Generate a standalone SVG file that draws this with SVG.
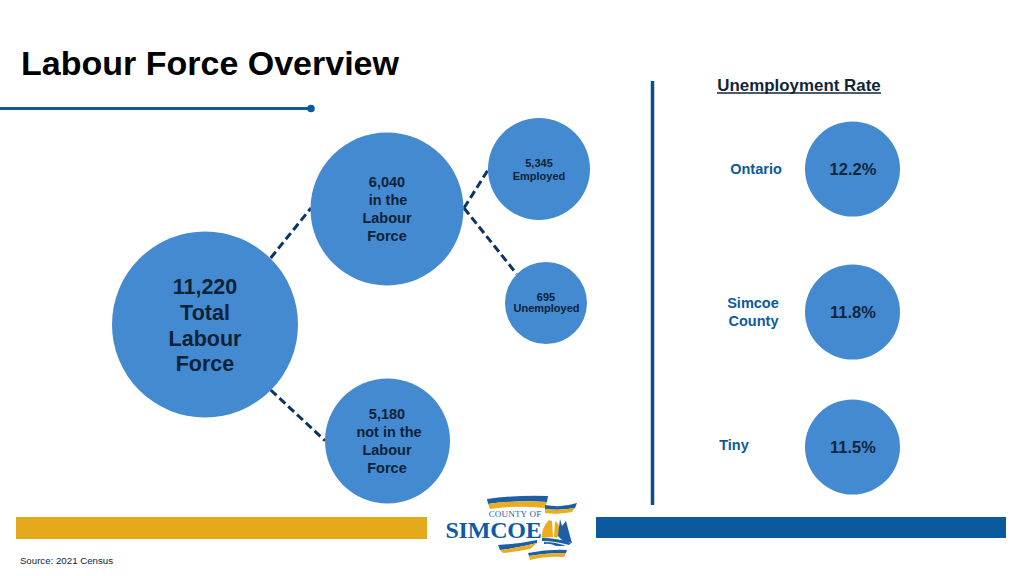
<svg xmlns="http://www.w3.org/2000/svg" width="1024" height="576" viewBox="0 0 1024 576">
<style>
text{font-family:"Liberation Sans",Arial,sans-serif;font-weight:bold;text-anchor:middle}
.c{fill:#448AD0}
.n{fill:#0E2238}
.r{fill:#0B5A9E;font-size:14.500px}
.rate{fill:#10263C;font-size:16.500px}
.d{stroke:#0B3560;stroke-width:3;stroke-dasharray:8 4;fill:none}
.b{fill:#1C5FA6}
.y{fill:#EBAD1E}
</style>
<rect width="1024" height="576" fill="#fff"/>
<g id="title">
<text x="210" y="75" font-size="34" fill="#000">Labour Force Overview</text>
<line x1="0" y1="108.500" x2="311" y2="108.500" stroke="#0B5A9E" stroke-width="3"/>
<circle cx="311" cy="108.500" r="3.800" fill="#0B5A9E"/>
</g>
<g id="connectors">
<line class="d" x1="270.700" y1="258" x2="311" y2="208"/>
<line class="d" x1="270.700" y1="390" x2="325" y2="440.700"/>
<line class="d" x1="464" y1="208" x2="488" y2="170"/>
<line class="d" x1="464" y1="208" x2="516.700" y2="274"/>
</g>
<g id="node-total"><circle class="c" cx="205" cy="324.500" r="93"/>
<text class="n" x="205" y="294" font-size="21.500">11,220</text><text class="n" x="205" y="320" font-size="21.500">Total</text><text class="n" x="205" y="346" font-size="21.500">Labour</text><text class="n" x="205" y="371" font-size="21.500">Force</text></g>
<g id="node-in"><circle class="c" cx="387" cy="209" r="76.500"/>
<text class="n" x="387" y="187" font-size="14.500">6,040</text><text class="n" x="388" y="205" font-size="14.500">in the</text><text class="n" x="387" y="223" font-size="14.500">Labour</text><text class="n" x="387" y="241" font-size="14.500">Force</text></g>
<g id="node-not"><circle class="c" cx="387.500" cy="441" r="62.500"/>
<text class="n" x="387" y="419" font-size="14.500">5,180</text><text class="n" x="389" y="437" font-size="14.500">not in the</text><text class="n" x="387" y="455" font-size="14.500">Labour</text><text class="n" x="387" y="473" font-size="14.500">Force</text></g>
<g id="node-employed"><circle class="c" cx="539" cy="169" r="51"/>
<text class="n" x="539" y="167" font-size="11">5,345</text><text class="n" x="539" y="180" font-size="11">Employed</text></g>
<g id="node-unemployed"><circle class="c" cx="546" cy="303" r="41"/>
<text class="n" x="546" y="301" font-size="11">695</text><text class="n" x="546.500" y="312" font-size="11">Unemployed</text></g>
<g id="divider"><line x1="652.500" y1="81" x2="652.500" y2="505" stroke="#0F4C88" stroke-width="3.500"/></g>
<g id="rate-heading"><text x="799" y="90.500" font-size="16.900" fill="#10263C">Unemployment Rate</text><line x1="717" y1="93" x2="881" y2="93" stroke="#10263C" stroke-width="1.300"/></g>
<g id="ontario"><text class="r" x="756" y="174">Ontario</text><circle class="c" cx="852.500" cy="169" r="47.500"/><text class="rate" x="853" y="175">12.2%</text></g>
<g id="simcoe"><text class="r" x="753" y="307.500">Simcoe</text><text class="r" x="753.500" y="325.500">County</text><circle class="c" cx="852.500" cy="312" r="47.500"/><text class="rate" x="853" y="318">11.8%</text></g>
<g id="tiny"><text class="r" x="734" y="450">Tiny</text><circle class="c" cx="852.500" cy="447" r="47.500"/><text class="rate" x="853" y="453">11.5%</text></g>
<g id="bars"><rect x="16" y="517" width="411" height="22" fill="#E5A91C"/><rect x="596" y="517" width="410" height="21" fill="#0B5A9E"/></g>
<g id="logo">
<path class="b" d="M487 499Q515 495 548 496L547 502Q517 500 488 504Z"/>
<path class="y" d="M488 504Q517 500 547 502L545 508Q517 505 490 509Z"/>
<path class="b" d="M545 505Q562 508 577 503L575 508Q560 511 545 509Z"/>
<path class="y" d="M545 509Q560 511 575 508L572 512Q558 515 545 513Z"/>
<text x="515" y="517" style="font-family:'Liberation Serif',serif;font-weight:normal" font-size="9" letter-spacing=".2" fill="#1C5FA6">COUNTY OF</text>
<text x="493.500" y="538" style="font-family:'Liberation Serif',serif" font-size="24" letter-spacing="-.2" fill="#0F5AA5">SIMCOE</text>
<path class="y" d="M549 520L552 521L553 537L542 538Q541 528 549 520ZM555 521Q563 527 557 538L554 537Z"/>
<path class="b" d="M560 519L562 526L566 521L570 536L572 543L563 541L558 536Z"/>
<path class="b" d="M542 538Q558 538 571 543L569 545Q555 541 542 541ZM544 542Q556 542 566 546L556 546Q550 543 544 544Z"/>
<path class="b" d="M498 545Q518 544 537 540L537 543Q518 548 500 550Z"/>
<path class="y" d="M500 550Q518 548 537 543L530 549Q515 552 503 553Z"/>
<path class="b" d="M528 553Q548 549 567 550L566 553Q546 553 529 556Z"/>
<path class="y" d="M529 556Q546 553 566 553L564 557Q546 556 530 560Z"/>
</g>
<text x="66.500" y="564" font-size="9.700" fill="#10263C" style="font-weight:normal">Source: 2021 Census</text>
</svg>
